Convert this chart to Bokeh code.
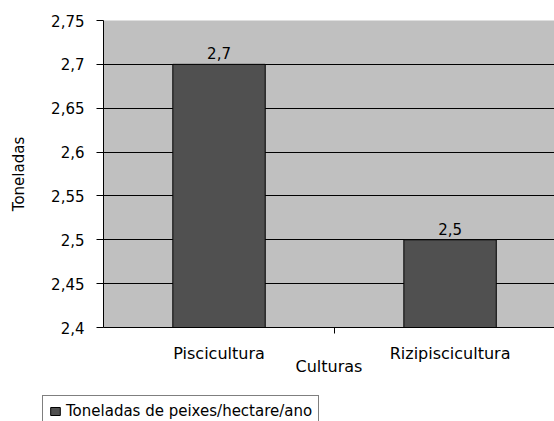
from bokeh.plotting import figure
from bokeh.layouts import column
from bokeh.models import Range1d, FixedTicker, ColumnDataSource, Legend, LegendItem
from bokeh.core.properties import value
from bokeh.embed import file_html
from bokeh.resources import INLINE

categories = ["Piscicultura", "Rizipiscicultura"]
values = [2.7, 2.5]
series_name = "Toneladas de peixes/hectare/ano"
y_ticks = [2.4, 2.45, 2.5, 2.55, 2.6, 2.65, 2.7, 2.75]
y_tick_labels = ["2,4", "2,45", "2,5", "2,55", "2,6", "2,65", "2,7", "2,75"]
x_title = "Culturas"
y_title = "Toneladas"

FONT = "DejaVu Sans"
BAR_COLOR = "#505050"
positions = [i + 0.5 for i in range(len(categories))]
value_labels = [f"{v:g}".replace(".", ",") for v in values]

p = figure(width=554, height=389, output_backend="svg", toolbar_location=None,
           x_range=Range1d(0, 1.952), y_range=Range1d(2.4, 2.75),
           min_border_left=103, min_border_right=0, min_border_top=20,
           min_border_bottom=62)
p.frame_align = False
p.background_fill_color = "#C0C0C0"
p.border_fill_color = "white"
p.outline_line_color = None

src = ColumnDataSource(dict(x=positions, top=values, lab=value_labels))
bars = p.vbar(x="x", top="top", bottom=2.4, width=0.4, source=src,
              fill_color=BAR_COLOR, line_color="black", line_width=1)
p.text(x="x", y="top", text="lab", source=src, text_align="center",
       text_baseline="bottom", y_offset=-5, text_font=value(FONT),
       text_font_size="15px", text_color="black")

# grid
p.xgrid.visible = False
p.ygrid.ticker = FixedTicker(ticks=y_ticks[1:-1])
p.ygrid.grid_line_color = "black"
p.ygrid.grid_line_alpha = 1.0
p.ygrid.level = "underlay"

# y axis
ya = p.yaxis[0]
ya.ticker = FixedTicker(ticks=y_ticks)
ya.major_label_overrides = {t: l for t, l in zip(y_ticks, y_tick_labels)}
ya.axis_label = y_title
ya.axis_label_text_font = FONT
ya.axis_label_text_font_size = "15px"
ya.axis_label_text_font_style = "normal"
ya.axis_label_text_color = "black"
ya.axis_label_standoff = 20
ya.major_label_text_font = FONT
ya.major_label_text_font_size = "15px"
ya.major_label_text_color = "black"
ya.major_label_standoff = 12
ya.major_tick_out = 7
ya.major_tick_in = 0
ya.minor_tick_out = 0
ya.minor_tick_in = 0
ya.axis_line_color = "black"
ya.major_tick_line_color = "black"

# x axis
xa = p.xaxis[0]
xa.ticker = FixedTicker(ticks=positions, minor_ticks=[1.0])
xa.major_label_overrides = {t: c for t, c in zip(positions, categories)}
xa.axis_label = x_title
xa.axis_label_text_font = FONT
xa.axis_label_text_font_size = "16px"
xa.axis_label_text_font_style = "normal"
xa.axis_label_text_color = "black"
xa.axis_label_standoff = -9
xa.major_label_text_font = FONT
xa.major_label_text_font_size = "16px"
xa.major_label_text_color = "black"
xa.major_label_standoff = 10
xa.major_tick_out = 0
xa.major_tick_in = 0
xa.minor_tick_out = 6
xa.minor_tick_in = 0
xa.minor_tick_line_color = "black"
xa.axis_line_color = "black"

# legend strip below the chart (its bars lie far outside this strip's view;
# they only supply the legend swatch)
p2 = figure(width=554, height=32, output_backend="svg", toolbar_location=None,
            x_range=Range1d(10, 11), y_range=Range1d(10, 11),
            x_axis_type=None, y_axis_type=None,
            min_border=0, min_border_left=0, min_border_right=0,
            min_border_top=0, min_border_bottom=0)
p2.frame_align = False
p2.outline_line_color = None
p2.background_fill_color = "white"
p2.border_fill_color = "white"
p2.xgrid.visible = False
p2.ygrid.visible = False
swatch = p2.vbar(x="x", top="top", bottom=2.4, width=0.4, source=src,
                 fill_color=BAR_COLOR, line_color="black", line_width=1)

legend = Legend(items=[LegendItem(label=series_name, renderers=[swatch])],
                location=(42, -6), orientation="vertical",
                label_text_font=FONT, label_text_font_size="15px",
                label_text_color="black",
                glyph_width=12, glyph_height=10, label_standoff=5,
                padding=6, margin=0, spacing=0,
                border_line_color="black", border_line_width=1,
                background_fill_color="white", background_fill_alpha=1.0)
p2.add_layout(legend, "center")

layout = column(p, p2, spacing=0)
open("out.html", "w").write(file_html(layout, INLINE))
